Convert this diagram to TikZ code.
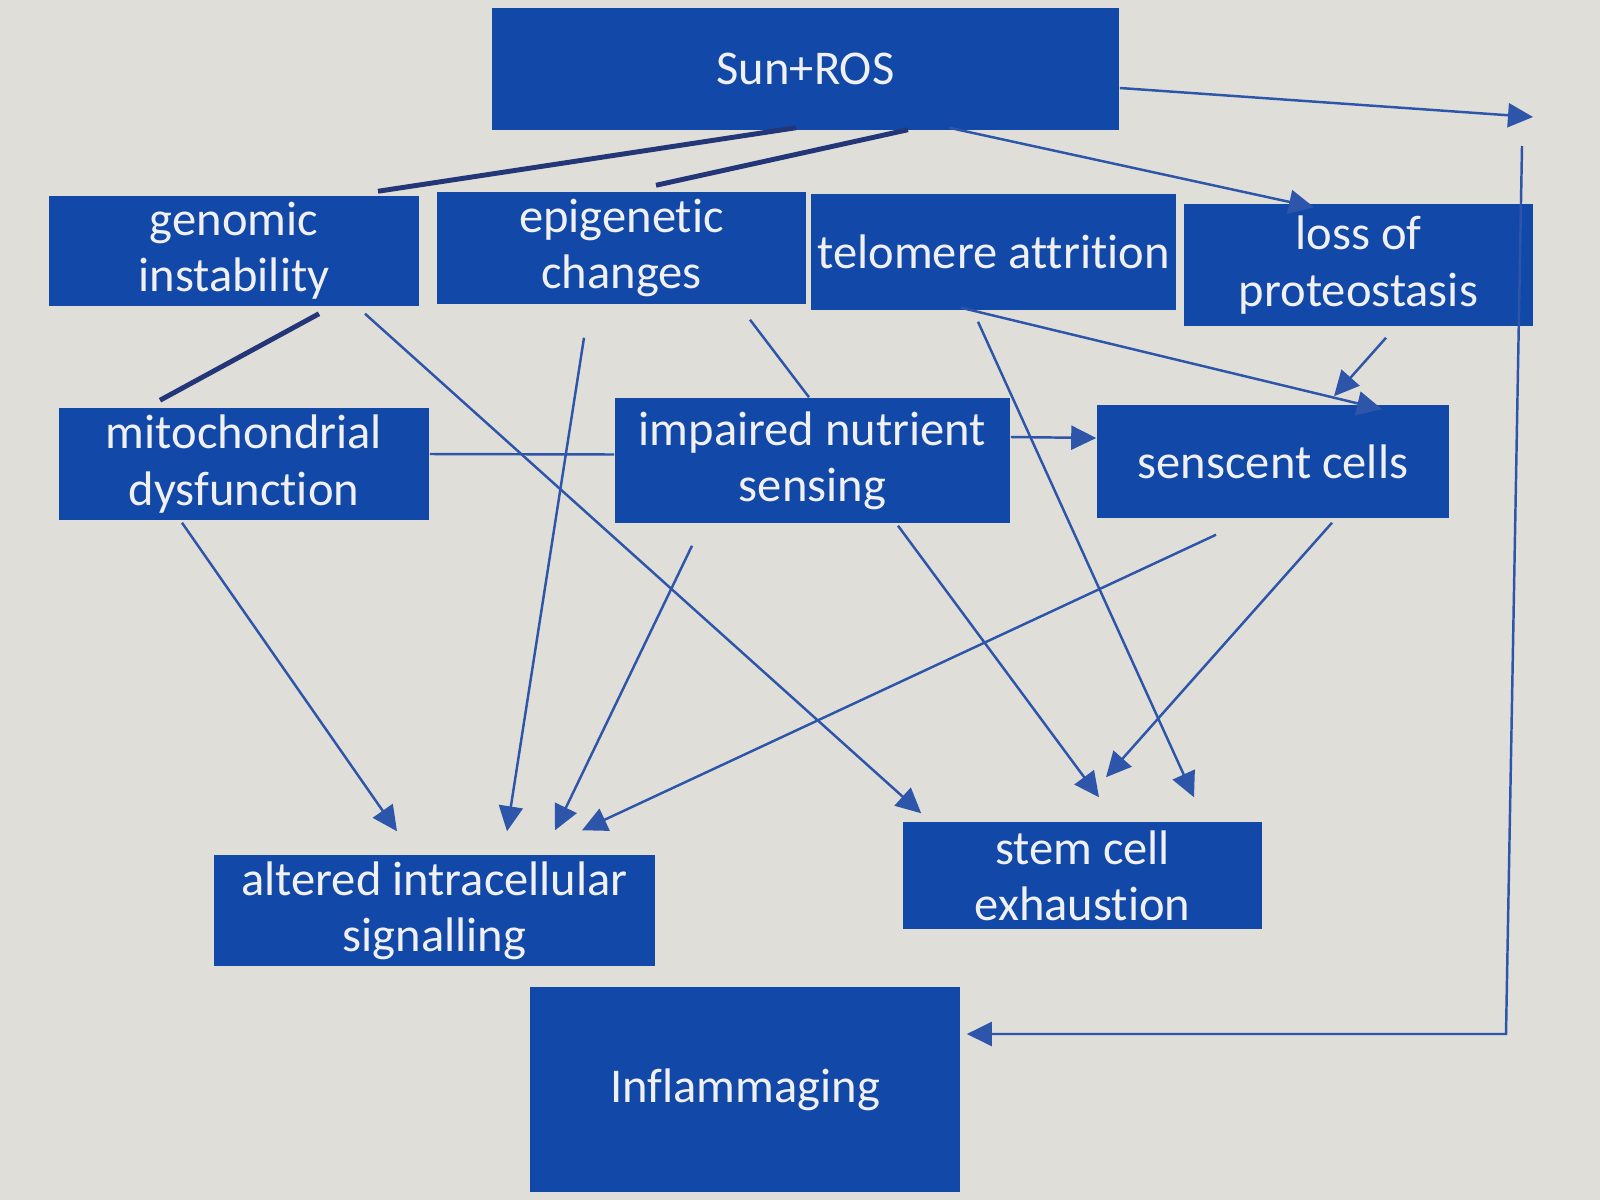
\documentclass[tikz,border=0pt]{standalone}
\usepackage{fontspec}
\setmainfont{Carlito}[Ligatures=NoCommon]
\usetikzlibrary{arrows.meta,calc}
\definecolor{bgc}{RGB}{224,222,216}
\definecolor{boxc}{RGB}{18,72,168}
\definecolor{linec}{RGB}{45,85,170}
\definecolor{thickc}{RGB}{35,55,120}
\definecolor{txtc}{RGB}{240,240,240}
\tikzset{
  box/.style={fill=boxc, draw=none, text=txtc, align=center, inner sep=0pt,
    font=\fontsize{13.8}{16}\selectfont},
  conn/.style={draw=linec, line width=0.7pt, -{Triangle[length=0.25cm,width=0.24cm]}},
  plain/.style={draw=linec, line width=0.7pt},
  thick/.style={draw=thickc, line width=1.4pt},
}
\begin{document}
\begin{tikzpicture}[x=0.01cm, y=-0.01cm]
\fill[bgc] (0,0) rectangle (1600,1200);
\useasboundingbox (0,0) rectangle (1600,1200);

\node[box, minimum width=6.27cm, minimum height=1.22cm] (sun) at (805.5,69) {Sun+ROS};
\node[box, minimum width=3.70cm, minimum height=1.10cm] (gen) at (234,251) {genomic\\instability};
\node[box, minimum width=3.69cm, minimum height=1.12cm] (epi) at (621.5,248) {epigenetic\\changes};
\node[box, minimum width=3.65cm, minimum height=1.16cm] (tel) at (993.5,252) {telomere attrition};
\node[box, minimum width=3.49cm, minimum height=1.22cm] (loss) at (1358.5,265) {loss of\\proteostasis};
\node[box, minimum width=3.70cm, minimum height=1.12cm] (mito) at (244,464) {mitochondrial\\dysfunction};
\node[box, minimum width=3.95cm, minimum height=1.25cm] (imp) at (812.5,460.5) {impaired nutrient\\sensing};
\node[box, minimum width=3.52cm, minimum height=1.13cm] (sen) at (1273,461.5) {senscent cells};
\node[box, minimum width=4.41cm, minimum height=1.11cm] (alt) at (434.5,910.5) {altered intracellular\\signalling};
\node[box, minimum width=3.59cm, minimum height=1.07cm] (stem) at (1082.5,875.5) {stem cell\\exhaustion};
\node[box, minimum width=4.30cm, minimum height=2.05cm] (infl) at (745,1089.5) {Inflammaging};

\coordinate (c1) at (1533,117);
\coordinate (c2) at (1522,146);
\coordinate (c3) at (1506,1034);

% Sun+ROS feedback to Inflammaging
\draw[conn] ($(sun.east)+(0,19)$) -- (c1);
\draw[conn] (c2) -- (c3) -- ([xshift=0.06cm]infl.east |- c3);

% thick plain lines
\draw[thick] ($(sun.south)+(-9.5,-3)$) -- ($(gen.north)+(144,-4)$);
\draw[thick] ($(sun.south)+(102.5,-1)$) -- ($(epi.north)+(34.5,-6)$);
\draw[thick] ($(gen.south)+(85,7)$) -- ($(mito.north)+(-84,-7)$);

% plain lines
\draw[plain] ($(epi.south)+(128.5,15)$) -- ($(imp.north)+(-3.5,0)$);
\draw[plain] ($(mito.east)+(0,-10)$) -- ($(imp.west)+(0,-6)$);

% arrows
\draw[conn] ($(sun.south)+(143.5,-3)$) -- ($(loss.north)+(-44.5,4)$);
\draw[conn] ($(gen.south)+(131,7)$) -- ($(stem.north west)+(19,-8)$);
\draw[conn] ($(epi.south)+(-37.5,33)$) -- ($(alt.north)+(72.5,-23)$);
\draw[conn] ($(tel.south)+(-32.5,-3)$) -- ($(sen.north)+(109,5)$);
\draw[conn] ($(tel.south)+(-15.5,11)$) -- ($(stem.north)+(111.5,-24)$);
\draw[conn] ($(loss.south)+(27.5,11)$) -- ($(sen.north)+(61,-8)$);
\draw[conn] ($(imp.east)+(0,-23.5)$) -- ($(sen.west)+(0,-23.5)$);
\draw[conn] ($(mito.south)+(-62,2)$) -- ($(alt.north)+(-37.5,-23)$);
\draw[conn] ($(imp.south)+(-120.5,22)$) -- ($(alt.north)+(120.5,-24)$);
\draw[conn] ($(imp.south)+(85.5,2)$) -- ($(stem.north)+(16.5,-24)$);
\draw[conn] ($(sen.south)+(-57,16)$) -- ($(alt.north)+(147.5,-24)$);
\draw[conn] ($(sen.south)+(59,4)$) -- ($(stem.north)+(23.5,-44)$);
\end{tikzpicture}
\end{document}
